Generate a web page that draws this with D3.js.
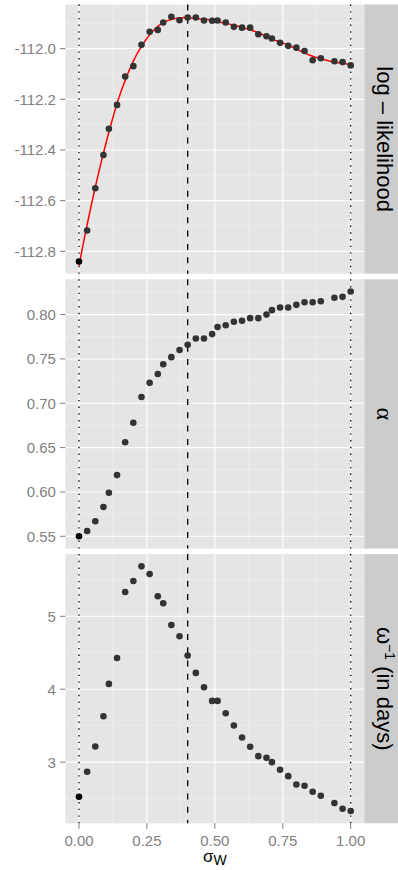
<!DOCTYPE html>
<meta charset="utf-8">
<style>

body {
  margin: 0;
  background: #fff;
}

svg {
  display: block;
  font-family: "Liberation Sans", Arial, sans-serif;
}

.tick-label {
  fill: #7f7f7f;
  font-size: 15px;
}

.strip-text {
  fill: #000;
  font-size: 22px;
}

</style>
<svg width="398" height="870"></svg>
<script src="https://d3js.org/d3.v7.min.js"></script>
<script>

// sigma_W grid (0.91 was not in the run)
var sigmaW = [0, 0.03, 0.06, 0.09, 0.11, 0.14, 0.17, 0.2, 0.23, 0.26, 0.29, 0.31, 0.34, 0.37, 0.4,
  0.43, 0.46, 0.49, 0.51, 0.54, 0.57, 0.6, 0.63, 0.66, 0.69, 0.71, 0.74, 0.77, 0.8, 0.83,
  0.86, 0.89, 0.94, 0.97, 1];

var logLik = [-112.840, -112.718, -112.551, -112.420, -112.316, -112.222, -112.110, -112.069,
  -111.985, -111.933, -111.926, -111.897, -111.874, -111.888, -111.877, -111.877, -111.889,
  -111.890, -111.889, -111.897, -111.914, -111.917, -111.917, -111.943, -111.951, -111.960,
  -111.977, -111.989, -111.996, -112.009, -112.046, -112.038, -112.050, -112.053, -112.066];

var alpha = [0.550, 0.556, 0.567, 0.583, 0.599, 0.619, 0.656, 0.678, 0.707, 0.723, 0.733,
  0.744, 0.752, 0.760, 0.766, 0.773, 0.773, 0.778, 0.786, 0.788, 0.792, 0.793, 0.796, 0.796,
  0.800, 0.805, 0.808, 0.808, 0.811, 0.814, 0.814, 0.815, 0.819, 0.820, 0.826];

var omegaInv = [2.525, 2.868, 3.215, 3.630, 4.073, 4.429, 5.333, 5.484, 5.685, 5.580, 5.274,
  5.178, 4.881, 4.726, 4.461, 4.224, 4.027, 3.840, 3.840, 3.671, 3.502, 3.338, 3.210, 3.082,
  3.059, 3.000, 2.895, 2.808, 2.694, 2.676, 2.594, 2.539, 2.438, 2.361, 2.329];

var xTicks = [0, 0.25, 0.5, 0.75, 1];
var logLikTicks = [-112.8, -112.6, -112.4, -112.2, -112.0];
var alphaTicks = [0.55, 0.60, 0.65, 0.70, 0.75, 0.80];
var omegaTicks = [3, 4, 5];

var boundaryLines = [0, 1];   // dotted
var estimateLines = [0.4];    // dashed

var svg = d3.select("svg"),
    plotLeft = 65.4,
    plotRight = 364.3,
    plotTop = 4.5,
    panelHeight = 269.2,
    panelGap = 5.6,
    stripWidth = 36;

// ggplot-like 5% expansion of the data range
function expand(ext) {
  var d = (ext[1] - ext[0]) * 0.05;
  return [ext[0] - d, ext[1] + d];
}

function midpoints(t, domain) {
  var step = t[1] - t[0], out = [];
  for (var v = t[0] - step / 2; v <= domain[1] + 1e-9; v += step) {
    if (v >= domain[0]) out.push(v);
  }
  return out;
}

var x = d3.scaleLinear()
    .domain(expand(d3.extent(sigmaW)))
    .range([plotLeft, plotRight]);

var panels = [
  {values: logLik, ticks: logLikTicks, format: function(d) { return d.toFixed(1); }, fit: true, label: "loglik"},
  {values: alpha, ticks: alphaTicks, format: function(d) { return d.toFixed(2); }, label: "alpha"},
  {values: omegaInv, ticks: omegaTicks, format: function(d) { return d.toFixed(0); }, label: "omega"}
];

// weighted quadratic fit around x0 (loess-style smoother for the red curve)
function localFit(xs, ys, ws, x0) {
  var s = [0, 0, 0, 0, 0], t = [0, 0, 0];
  xs.forEach(function(xv, k) {
    var d = xv - x0, w = ws[k];
    if (!w) return;
    s[0] += w; s[1] += w * d; s[2] += w * d * d; s[3] += w * d * d * d; s[4] += w * d * d * d * d;
    t[0] += w * ys[k]; t[1] += w * d * ys[k]; t[2] += w * d * d * ys[k];
  });
  var A = [[s[0], s[1], s[2]], [s[1], s[2], s[3]], [s[2], s[3], s[4]]];
  var det = function(m) {
    return m[0][0] * (m[1][1] * m[2][2] - m[1][2] * m[2][1])
         - m[0][1] * (m[1][0] * m[2][2] - m[1][2] * m[2][0])
         + m[0][2] * (m[1][0] * m[2][1] - m[1][1] * m[2][0]);
  };
  var M = A.map(function(row, r) { return [t[r], row[1], row[2]]; });
  return det(M) / det(A);
}

function loess(xs, ys, span) {
  var q = Math.ceil(span * xs.length);
  return function(x0) {
    var dist = xs.map(function(xv) { return Math.abs(xv - x0); });
    var h = dist.slice().sort(d3.ascending)[q - 1] * 1.0001;
    var ws = dist.map(function(d) {
      var u = d / h;
      return u < 1 ? Math.pow(1 - u * u * u, 3) : 0;
    });
    return localFit(xs, ys, ws, x0);
  };
}

panels.forEach(function(p, i) {
  var y0 = plotTop + i * (panelHeight + panelGap),
      y1 = y0 + panelHeight;

  var y = d3.scaleLinear()
      .domain(expand(d3.extent(p.values)))
      .range([y1, y0]);

  var g = svg.append("g");

  g.append("rect")
      .attr("x", plotLeft)
      .attr("y", y0)
      .attr("width", plotRight - plotLeft)
      .attr("height", panelHeight)
      .attr("fill", "#e5e5e5");

  // minor grid
  g.selectAll(".minor-y")
    .data(midpoints(p.ticks, y.domain()))
    .enter().append("line")
      .attr("x1", plotLeft).attr("x2", plotRight)
      .attr("y1", y).attr("y2", y)
      .attr("stroke", "#f2f2f2")
      .attr("stroke-width", 0.6);

  g.selectAll(".minor-x")
    .data(midpoints(xTicks, x.domain()))
    .enter().append("line")
      .attr("y1", y0).attr("y2", y1)
      .attr("x1", x).attr("x2", x)
      .attr("stroke", "#f2f2f2")
      .attr("stroke-width", 0.6);

  // major grid
  g.selectAll(".major-y")
    .data(p.ticks)
    .enter().append("line")
      .attr("x1", plotLeft).attr("x2", plotRight)
      .attr("y1", y).attr("y2", y)
      .attr("stroke", "#fff")
      .attr("stroke-width", 1.1);

  g.selectAll(".major-x")
    .data(xTicks)
    .enter().append("line")
      .attr("y1", y0).attr("y2", y1)
      .attr("x1", x).attr("x2", x)
      .attr("stroke", "#fff")
      .attr("stroke-width", 1.1);

  // y axis ticks and labels
  g.selectAll(".ytick")
    .data(p.ticks)
    .enter().append("line")
      .attr("x1", plotLeft - 5.4).attr("x2", plotLeft)
      .attr("y1", y).attr("y2", y)
      .attr("stroke", "#7f7f7f")
      .attr("stroke-width", 1);

  g.selectAll(".ylabel")
    .data(p.ticks)
    .enter().append("text")
      .attr("class", "tick-label")
      .attr("x", plotLeft - 9.5)
      .attr("y", y)
      .attr("dy", "0.36em")
      .attr("text-anchor", "end")
      .text(p.format);

  // reference lines
  g.selectAll(".boundary")
    .data(boundaryLines)
    .enter().append("line")
      .attr("x1", x).attr("x2", x)
      .attr("y1", y0).attr("y2", y1)
      .attr("stroke", "#000")
      .attr("stroke-width", 1.3)
      .attr("stroke-dasharray", "1.4,5.3");

  g.selectAll(".estimate")
    .data(estimateLines)
    .enter().append("line")
      .attr("x1", x).attr("x2", x)
      .attr("y1", y0).attr("y2", y1)
      .attr("stroke", "#000")
      .attr("stroke-width", 1.3)
      .attr("stroke-dasharray", "6,7.3");

  var pts = sigmaW.map(function(s, k) { return {x: s, y: p.values[k]}; });

  if (p.fit) {
    var f = loess(sigmaW, p.values, 0.3);
    var curve = d3.range(0, 1.0001, 0.005).map(function(s) { return {x: s, y: f(s)}; });
    g.append("path")
        .datum(curve)
        .attr("fill", "none")
        .attr("stroke", "#ff0000")
        .attr("stroke-width", 1.5)
        .attr("d", d3.line()
            .curve(d3.curveMonotoneX)
            .x(function(d) { return x(d.x); })
            .y(function(d) { return y(d.y); }));
  }

  g.selectAll(".pt")
    .data(pts)
    .enter().append("circle")
      .attr("cx", function(d) { return x(d.x); })
      .attr("cy", function(d) { return y(d.y); })
      .attr("r", 3.3)
      .attr("fill", function(d) { return d.x === 0 ? "#000" : "#333"; });

  // strip on the right
  g.append("rect")
      .attr("x", plotRight)
      .attr("y", y0)
      .attr("width", stripWidth)
      .attr("height", panelHeight)
      .attr("fill", "#cccccc");

  var st = g.append("text")
      .attr("class", "strip-text")
      .attr("text-anchor", "middle")
      .attr("transform", "translate(" + (plotRight + 13) + "," + (y0 + panelHeight / 2) + ") rotate(90)");

  if (p.label === "loglik") {
    st.text("log \u2013 likelihood");
  } else if (p.label === "alpha") {
    st.style("font-family", "'Liberation Serif', serif").style("font-size", "24px").text("\u03b1");
  } else {
    st.append("tspan").text("\u03c9");
    st.append("tspan").attr("dy", -8).style("font-size", "14px").text("\u22121");
    st.append("tspan").attr("dy", 8).text(" (in days)");
  }

  if (i === panels.length - 1) {
    g.selectAll(".xtick")
      .data(xTicks)
      .enter().append("line")
        .attr("x1", x).attr("x2", x)
        .attr("y1", y1).attr("y2", y1 + 5.4)
        .attr("stroke", "#7f7f7f")
        .attr("stroke-width", 1);

    g.selectAll(".xlabel")
      .data(xTicks)
      .enter().append("text")
        .attr("class", "tick-label")
        .attr("x", x)
        .attr("y", y1 + 22.3)
        .attr("text-anchor", "middle")
        .text(function(d) { return d.toFixed(2); });

    var title = g.append("text")
        .attr("x", (plotLeft + plotRight) / 2)
        .attr("y", y1 + 38.5)
        .attr("text-anchor", "middle")
        .style("font-size", "17px")
        .attr("fill", "#000");
    title.append("tspan").text("\u03c3");
    title.append("tspan").attr("dy", 3.5).style("font-size", "14px").text("W");
  }
});

</script>
